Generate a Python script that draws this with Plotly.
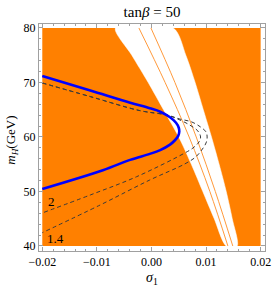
import plotly.graph_objects as go

# ---- data ----
sigma_range = [-0.02, 0.02]
mH_range = [40, 80]

# white (allowed) band boundaries, sampled at these mH values
band_mH = [40, 45, 50, 55, 60, 65, 70, 75, 80]
band_left = [0.0137, 0.0115, 0.0094, 0.0073, 0.0050, 0.0022, -0.0006, -0.0036, -0.0066]
band_right = [0.0157, 0.0148, 0.0137, 0.0124, 0.0110, 0.0095, 0.0080, 0.0063, 0.0040]

# thin orange lines inside the band
oline_mH = [40, 50, 60, 70, 80]
oline1_sigma = [0.0140, 0.0107, 0.0069, 0.0025, -0.0023]
oline2_sigma = [0.0149, 0.0117, 0.0082, 0.0043, -0.0001]

# blue curve
blue_sigma = [-0.0200, -0.0112, -0.0039, -0.0003, 0.0016, 0.0034, 0.0045, 0.0050, 0.0051,
              0.0049, 0.0043, 0.0034, 0.0016, -0.0003, -0.0039, -0.0089, -0.0200]
blue_mH = [71.19, 68.53, 66.29, 65.27, 64.64, 63.61, 62.6, 61.7, 61.0,
           60.2, 59.4, 58.6, 57.6, 56.9, 55.8, 53.9, 50.46]

# dashed contour "2"
c2_sigma = [-0.0200, -0.0112, -0.0021, 0.0028, 0.0052, 0.0070, 0.0085, 0.0090, 0.0087,
            0.0076, 0.0061, -0.0027, -0.0112, -0.0200]
c2_mH = [69.91, 67.41, 64.83, 64.04, 63.12, 62.20, 61.10, 60.00, 59.08,
         57.98, 57.06, 52.72, 49.36, 46.06]

# dashed contour "1.4"
c14_sigma = [-0.0200, -0.0112, -0.0021, 0.0028, 0.0052, 0.0074, 0.0090, 0.0100, 0.0102,
             0.0100, 0.0092, 0.0081, 0.0061, -0.0003, -0.0094, -0.0200]
c14_mH = [69.91, 67.41, 64.83, 64.04, 63.30, 62.75, 61.83, 60.92, 60.00,
          58.90, 57.61, 56.33, 55.05, 52.11, 47.52, 42.44]

contour_labels = ["2", "1.4"]
label_sigma = [-0.0184, -0.0176]
label_mH = [48.1, 41.3]

x_ticks = [-0.02, -0.01, 0.0, 0.01, 0.02]
x_ticklabels = ["\u22120.02", "\u22120.01", "0.00", "0.01", "0.02"]
y_ticks = [40, 50, 60, 70, 80]
y_ticklabels = ["40", "50", "60", "70", "80"]

ORANGE = "#FF8000"
FONT = "Liberation Serif"

fig = go.Figure()

# orange excluded region (full rectangle)
fig.add_trace(go.Scatter(
    x=[sigma_range[0], sigma_range[1], sigma_range[1], sigma_range[0], sigma_range[0]],
    y=[mH_range[0], mH_range[0], mH_range[1], mH_range[1], mH_range[0]],
    fill="toself", fillcolor=ORANGE, mode="lines", line=dict(width=0, color=ORANGE),
    hoverinfo="skip"))

# white band
fig.add_trace(go.Scatter(
    x=band_left + band_right[::-1] + [band_left[0]],
    y=band_mH + band_mH[::-1] + [band_mH[0]],
    fill="toself", fillcolor="white", mode="lines",
    line=dict(width=0.5, color="white", shape="spline", smoothing=0.8),
    hoverinfo="skip"))

for s in (oline1_sigma, oline2_sigma):
    fig.add_trace(go.Scatter(x=s, y=oline_mH, mode="lines",
                             line=dict(color="#FF9A3C", width=1, shape="spline"),
                             hoverinfo="skip"))

for sx, sy in ((c2_sigma, c2_mH), (c14_sigma, c14_mH)):
    fig.add_trace(go.Scatter(x=sx, y=sy, mode="lines",
                             line=dict(color="#3a3a3a", width=1, dash="4px,3px", shape="spline"),
                             hoverinfo="skip"))

fig.add_trace(go.Scatter(x=blue_sigma, y=blue_mH, mode="lines",
                         line=dict(color="#0000FF", width=2.6, shape="spline"),
                         hoverinfo="skip"))

for t, sx, sy in zip(contour_labels, label_sigma, label_mH):
    fig.add_annotation(x=sx, y=sy, text=t, showarrow=False,
                       font=dict(family=FONT, size=13, color="black"))

axis_common = dict(showgrid=False, zeroline=False, showline=True, linecolor="#A0A0A0",
                   linewidth=1, mirror="allticks", ticks="inside", ticklen=4,
                   tickcolor="#A0A0A0", automargin=False,
                   tickfont=dict(family=FONT, size=12, color="black"))

fig.update_xaxes(range=[-0.0206, 0.0208], tickmode="array", tickvals=x_ticks,
                 ticktext=x_ticklabels,
                 minor=dict(tickmode="linear", tick0=-0.02, dtick=0.002, ticks="inside",
                            ticklen=2, tickcolor="#A0A0A0"),
                 **axis_common)
fig.update_yaxes(range=[39.08, 80.73], tickmode="array", tickvals=y_ticks,
                 ticktext=y_ticklabels,
                 minor=dict(tickmode="linear", tick0=40, dtick=2, ticks="inside",
                            ticklen=2, tickcolor="#A0A0A0"),
                 **axis_common)

fig.add_annotation(xref="paper", yref="paper", x=0.5, y=-0.119, text="<i>σ</i><sub>1</sub>",
                   showarrow=False, yanchor="middle",
                   font=dict(family=FONT, size=14, color="black"))
fig.add_annotation(xref="paper", yref="paper", x=-0.12, y=0.49,
                   text="<i>m</i><sub><i>H</i></sub>(GeV)", textangle=-90,
                   showarrow=False, xanchor="center", yanchor="middle",
                   font=dict(family=FONT, size=13, color="black"))

fig.update_layout(
    width=273, height=291,
    margin=dict(l=39, r=8, t=24, b=40),
    paper_bgcolor="white", plot_bgcolor="white", showlegend=False,
    title=dict(text="tan<i>β</i> = 50", x=0.5, xref="paper", xanchor="center",
               y=1 - 12 / 291, yref="container", yanchor="middle",
               font=dict(family=FONT, size=15, color="black")),
)

fig.write_html("out.html", config={"displayModeBar": False},
               post_script="document.body.style.margin='0px';")
